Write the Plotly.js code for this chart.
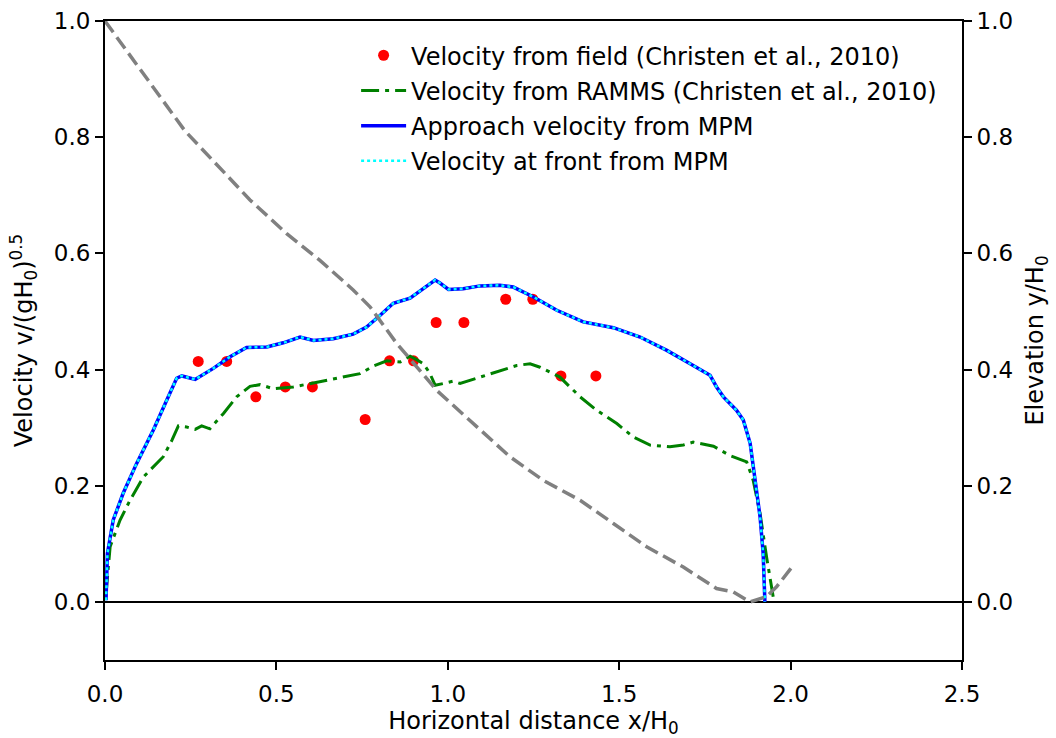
<!DOCTYPE html>
<html>
<head>
<meta charset="utf-8">
<script src="https://cdn.plot.ly/plotly-3.0.1.min.js"></script>
<style>html,body{margin:0;padding:0;background:#fff;}#chart{width:1056px;height:738px;}</style>
</head>
<body>
<div id="chart"></div>
<script>
// Field velocity (Christen et al., 2010)
const fieldX = [0.272, 0.355, 0.440, 0.526, 0.605, 0.759, 0.830, 0.900, 0.966, 1.047, 1.169, 1.248, 1.330, 1.432];
const fieldV = [0.414, 0.414, 0.353, 0.370, 0.370, 0.314, 0.415, 0.415, 0.481, 0.481, 0.521, 0.521, 0.389, 0.389];

// RAMMS velocity
const rammsX = [0.003, 0.015, 0.044, 0.073, 0.112, 0.170, 0.195, 0.214, 0.238, 0.263, 0.282, 0.306, 0.345, 0.384, 0.423, 0.452, 0.491, 0.549, 0.608, 0.686, 0.744, 0.783, 0.822, 0.861, 0.890, 0.909, 0.929, 0.948, 0.963, 0.987, 1.016, 1.036, 1.094, 1.152, 1.201, 1.240, 1.269, 1.327, 1.386, 1.434, 1.493, 1.541, 1.590, 1.648, 1.687, 1.716, 1.775, 1.823, 1.872, 1.891, 1.911, 1.930, 1.950];
const rammsV = [0.014, 0.095, 0.141, 0.175, 0.215, 0.250, 0.278, 0.303, 0.301, 0.297, 0.303, 0.298, 0.324, 0.353, 0.371, 0.374, 0.367, 0.370, 0.377, 0.386, 0.393, 0.406, 0.415, 0.413, 0.423, 0.417, 0.410, 0.393, 0.373, 0.376, 0.380, 0.376, 0.387, 0.399, 0.407, 0.410, 0.404, 0.387, 0.353, 0.330, 0.307, 0.284, 0.270, 0.267, 0.270, 0.275, 0.268, 0.252, 0.241, 0.209, 0.152, 0.077, 0.006];

// MPM approach velocity (front velocity coincides)
const mpmX = [0.003, 0.007, 0.024, 0.053, 0.092, 0.141, 0.180, 0.209, 0.224, 0.263, 0.316, 0.365, 0.413, 0.472, 0.520, 0.569, 0.608, 0.666, 0.724, 0.763, 0.802, 0.841, 0.890, 0.929, 0.963, 0.977, 1.002, 1.045, 1.094, 1.152, 1.191, 1.250, 1.318, 1.395, 1.483, 1.561, 1.639, 1.707, 1.765, 1.784, 1.804, 1.842, 1.862, 1.882, 1.896, 1.911, 1.920, 1.925];
const mpmV = [0.003, 0.083, 0.141, 0.187, 0.238, 0.296, 0.347, 0.385, 0.389, 0.383, 0.402, 0.422, 0.438, 0.439, 0.446, 0.456, 0.450, 0.453, 0.461, 0.473, 0.493, 0.514, 0.523, 0.539, 0.554, 0.549, 0.538, 0.539, 0.544, 0.545, 0.542, 0.525, 0.502, 0.482, 0.472, 0.456, 0.433, 0.410, 0.390, 0.370, 0.353, 0.330, 0.313, 0.273, 0.215, 0.146, 0.083, 0.000];
const frontX = mpmX;
const frontV = mpmV;

// Terrain elevation
const elevX = [0.000, 0.233, 0.423, 0.530, 0.627, 0.724, 0.773, 0.851, 0.968, 1.055, 1.181, 1.279, 1.386, 1.483, 1.580, 1.687, 1.784, 1.833, 1.882, 1.930, 1.959, 2.008];
const elevY = [1.000, 0.811, 0.692, 0.634, 0.588, 0.537, 0.508, 0.445, 0.364, 0.318, 0.250, 0.209, 0.175, 0.135, 0.095, 0.060, 0.023, 0.017, 0.000, 0.009, 0.026, 0.063];

const FONT = 'DejaVu Sans, sans-serif';

const traces = [
  {x: elevX, y: elevY, yaxis: 'y2', mode: 'lines', showlegend: false,
   line: {color: '#808080', width: 3.5, dash: '14px,6px'}, hoverinfo: 'skip'},
  {x: fieldX, y: fieldV, mode: 'markers', name: 'Velocity from field (Christen et al., 2010)',
   legendgroup: 'a', marker: {color: '#ff0000', size: 11}},
  {x: rammsX, y: rammsV, mode: 'lines', name: 'Velocity from RAMMS (Christen et al., 2010)',
   legendgroup: 'b', line: {color: '#008000', width: 3, dash: '18px,6px,4px,6px'}},
  {x: mpmX, y: mpmV, mode: 'lines', name: 'Approach velocity from MPM',
   legendgroup: 'c', line: {color: '#0000ff', width: 3.5}},
  {x: frontX, y: frontV, mode: 'lines', name: 'Velocity at front from MPM',
   legendgroup: 'd', line: {color: '#00ffff', width: 2.5, dash: '3px,3px'}}
];

const layout = {
  width: 1056, height: 738,
  margin: {l: 105, r: 94, t: 21, b: 78},
  paper_bgcolor: '#fff', plot_bgcolor: '#fff',
  font: {family: FONT, size: 23, color: '#000'},
  showlegend: true,
  legend: {x: 0.293, y: 0.981, xanchor: 'left', yanchor: 'top', bgcolor: 'rgba(0,0,0,0)',
           font: {family: FONT, size: 24}, traceorder: 'grouped', tracegroupgap: 1, itemwidth: 45},
  xaxis: {range: [0, 2.5], tickvals: [0, 0.5, 1.0, 1.5, 2.0, 2.5], tickformat: '.1f',
          showgrid: false, zeroline: false, showline: true, mirror: true, linecolor: '#000', linewidth: 2,
          ticks: 'outside', ticklen: 8, tickwidth: 2, tickcolor: '#000', ticklabelstandoff: 4,
          title: {text: 'Horizontal distance x/H<sub>0</sub>', font: {size: 24}, standoff: 2}},
  yaxis: {range: [-0.1, 1.0], tickvals: [0, 0.2, 0.4, 0.6, 0.8, 1.0], tickformat: '.1f',
          showgrid: false, zeroline: true, zerolinecolor: '#000', zerolinewidth: 2,
          showline: true, linecolor: '#000', linewidth: 2,
          ticks: 'outside', ticklen: 8, tickwidth: 2, tickcolor: '#000',
          title: {text: 'Velocity v/(gH<sub>0</sub>)<sup>0.5</sup>', font: {size: 24}, standoff: 14}},
  yaxis2: {range: [-0.1, 1.0], overlaying: 'y', side: 'right', tickvals: [0, 0.2, 0.4, 0.6, 0.8, 1.0], tickformat: '.1f',
           showgrid: false, zeroline: false, showline: true, linecolor: '#000', linewidth: 2,
           ticks: 'outside', ticklen: 8, tickwidth: 2, tickcolor: '#000',
           title: {text: 'Elevation y/H<sub>0</sub>', font: {size: 24}, standoff: 14}}
};

Plotly.newPlot('chart', traces, layout, {displayModeBar: false, staticPlot: true});
</script>
</body>
</html>
